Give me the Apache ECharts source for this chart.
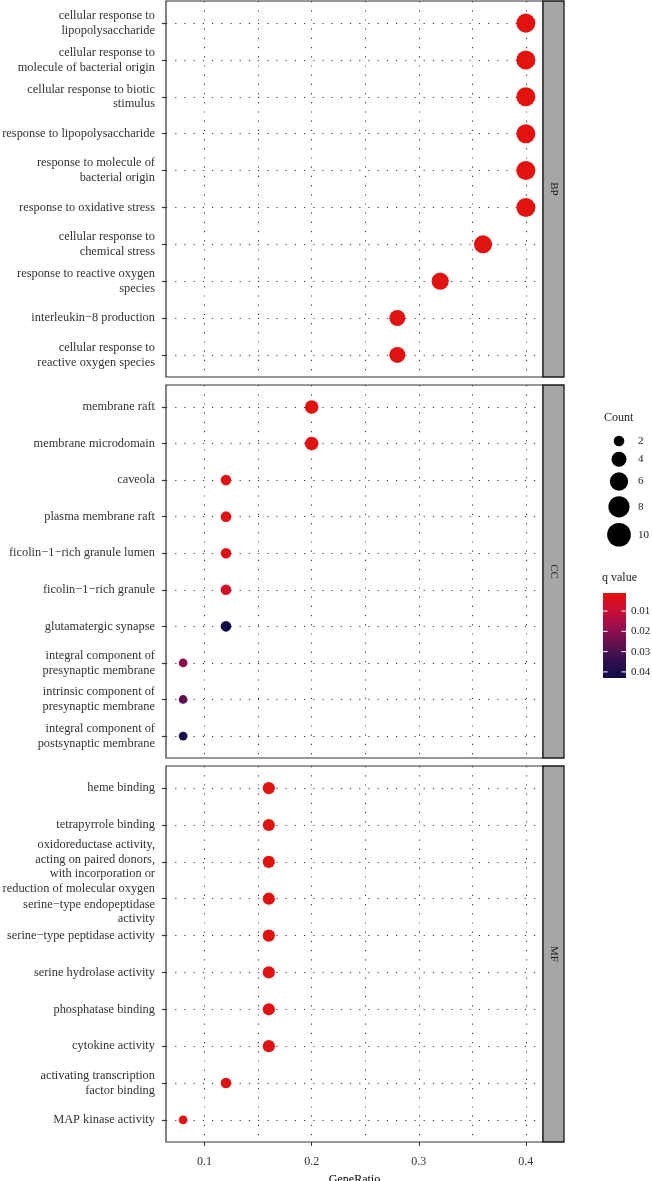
<!DOCTYPE html>
<html><head><meta charset="utf-8">
<script src="https://cdn.jsdelivr.net/npm/echarts@6/dist/echarts.min.js"></script>
<style>html,body{margin:0;padding:0;background:#fff}#c{width:652px;height:1181px}</style>
</head><body><div id="c"></div>
<script>
// ---------- data ----------
const bpTerms = [
  "cellular response to\nlipopolysaccharide",
  "cellular response to\nmolecule of bacterial origin",
  "cellular response to biotic\nstimulus",
  "response to lipopolysaccharide",
  "response to molecule of\nbacterial origin",
  "response to oxidative stress",
  "cellular response to\nchemical stress",
  "response to reactive oxygen\nspecies",
  "interleukin\u22128 production",
  "cellular response to\nreactive oxygen species"
];
const bpRatio = [0.40, 0.40, 0.40, 0.40, 0.40, 0.40, 0.36, 0.32, 0.28, 0.28];
const bpCount = [10, 10, 10, 10, 10, 10, 9, 8, 7, 7];
const bpQ     = [0.0011, 0.0011, 0.0011, 0.0011, 0.0011, 0.0012, 0.0013, 0.0015, 0.0016, 0.0018];

const ccTerms = [
  "membrane raft",
  "membrane microdomain",
  "caveola",
  "plasma membrane raft",
  "ficolin\u22121\u2212rich granule lumen",
  "ficolin\u22121\u2212rich granule",
  "glutamatergic synapse",
  "integral component of\npresynaptic membrane",
  "intrinsic component of\npresynaptic membrane",
  "integral component of\npostsynaptic membrane"
];
const ccRatio = [0.20, 0.20, 0.12, 0.12, 0.12, 0.12, 0.12, 0.08, 0.08, 0.08];
const ccCount = [5, 5, 3, 3, 3, 3, 3, 2, 2, 2];
const ccQ     = [0.0016, 0.0016, 0.0019, 0.0022, 0.0030, 0.0065, 0.0430, 0.0200, 0.0275, 0.0410];

const mfTerms = [
  "heme binding",
  "tetrapyrrole binding",
  "oxidoreductase activity,\nacting on paired donors,\nwith incorporation or\nreduction of molecular oxygen",
  "serine\u2212type endopeptidase\nactivity",
  "serine\u2212type peptidase activity",
  "serine hydrolase activity",
  "phosphatase binding",
  "cytokine activity",
  "activating transcription\nfactor binding",
  "MAP kinase activity"
];
const mfRatio = [0.16, 0.16, 0.16, 0.16, 0.16, 0.16, 0.16, 0.16, 0.12, 0.08];
const mfCount = [4, 4, 4, 4, 4, 4, 4, 4, 3, 2];
const mfQ     = [0.0013, 0.0013, 0.0015, 0.0016, 0.0017, 0.0017, 0.0019, 0.0020, 0.0021, 0.0022];

const panelNames = ["BP", "CC", "MF"];
const xTicks = [0.1, 0.2, 0.3, 0.4];
const xGridValues = [0.1, 0.15, 0.2, 0.25, 0.3, 0.35, 0.4];
const countLegend = [2, 4, 6, 8, 10];
const qTicks = [0.01, 0.02, 0.03, 0.04];

// ---------- layout / style ----------
const FONT = "'Liberation Serif', 'DejaVu Serif', serif";
const gridLeft = 166, gridRightX = 543, stripW = 21;
const panels = [
  {top: 1, h: 376},
  {top: 385, h: 373},
  {top: 766, h: 376}
];
// extra top spacing (px) pushing some long labels down, as in the original figure
const labelSpacer = [{}, {}, {2: 10, 3: 26}];
const xMin = 0.064, xMax = 0.416;
const colorStops = ['#E2130F', '#CB0D33', '#9B0E4B', '#66104F', '#2E0F4F', '#100C4A'];
const sizeOf = c => 5.9 * Math.sqrt(c) + 0.4;
const legendSizeOf = c => 7.5 * Math.sqrt(c);

const allQ = bpQ.concat(ccQ, mfQ);
const qMin = Math.min(...allQ), qMax = Math.max(...allQ);

const groups = [
  {terms: bpTerms, ratio: bpRatio, count: bpCount, q: bpQ},
  {terms: ccTerms, ratio: ccRatio, count: ccCount, q: ccQ},
  {terms: mfTerms, ratio: mfRatio, count: mfCount, q: mfQ}
];

const grid = [], xAxis = [], yAxis = [], series = [];
const dotLine = {color: '#3a3a3a', width: 1.1, type: [1.2, 8]};
const LH = 14.8;
groups.forEach((g, i) => {
  const p = panels[i];
  const isLast = i === groups.length - 1;
  grid.push({left: gridLeft, width: gridRightX - gridLeft, top: p.top, height: p.h,
    show: true, borderColor: '#333', borderWidth: 1.2, backgroundColor: '#fff',
    containLabel: false, outerBoundsMode: 'none'});
  xAxis.push({
    type: 'value', gridIndex: i, min: xMin, max: xMax, position: 'bottom',
    axisLine: {show: false, onZero: false},
    splitLine: {show: false},
    axisTick: {show: isLast, customValues: xTicks, length: 4, lineStyle: {color: '#333'}},
    axisLabel: {show: isLast, customValues: xTicks, margin: 14, fontFamily: FONT, fontSize: 12, color: '#333',
      formatter: v => String(Math.round(v * 10) / 10)},
    name: isLast ? 'GeneRatio' : '', nameLocation: 'middle', nameGap: 32,
    nameTextStyle: {fontFamily: FONT, fontSize: 12, color: '#000'}
  });
  const idx = g.terms.map((_, k) => k);
  const sp = labelSpacer[i];
  const rich = {};
  Object.keys(sp).forEach(k => { rich['sp' + k] = {lineHeight: sp[k], fontSize: 1}; });
  rich.t = {fontFamily: FONT, fontSize: 12.4, color: '#333', lineHeight: LH};
  yAxis.push({
    type: 'value', gridIndex: i, inverse: true, min: -0.6, max: g.terms.length - 0.4,
    axisLine: {show: false, onZero: false},
    splitLine: {show: false},
    axisTick: {show: true, customValues: idx, length: 4, lineStyle: {color: '#333', width: 1.2}},
    axisLabel: {show: true, customValues: idx, margin: 11, fontFamily: FONT, fontSize: 12.4, color: '#333',
      lineHeight: LH, rich: rich,
      formatter: v => {
        const k = Math.round(v);
        const txt = g.terms[k];
        if (sp[k]) return '{sp' + k + '| }\n' + txt.split('\n').map(s => '{t|' + s + '}').join('\n');
        return txt;
      }}
  });
  // grid lines
  series.push({
    type: 'scatter', xAxisIndex: i, yAxisIndex: i, data: [], z: 1, silent: true,
    markLine: {silent: true, symbol: ['none', 'none'], label: {show: false}, animation: false,
      lineStyle: dotLine, emphasis: {disabled: true},
      data: xGridValues.map(v => ({xAxis: v})).concat(idx.map(k => ({yAxis: k})))}
  });
  series.push({
    type: 'scatter', xAxisIndex: i, yAxisIndex: i, z: 5,
    data: g.ratio.map((r, k) => [r, k, g.q[k], g.count[k]]),
    symbolSize: v => sizeOf(v[3]),
    itemStyle: {opacity: 1}
  });
});

const dotSeriesIdx = [1, 3, 5];

// ---------- graphics: strips + legends ----------
const graphic = [];
panels.forEach((p, i) => {
  graphic.push({type: 'rect', shape: {x: gridRightX, y: p.top, width: stripW, height: p.h},
    style: {fill: '#A6A6A6', stroke: '#1a1a1a', lineWidth: 1.3}, z: 10});
  graphic.push({type: 'text', x: gridRightX + stripW / 2 + 0.5, y: p.top + p.h / 2, rotation: -Math.PI / 2,
    style: {text: panelNames[i], align: 'center', verticalAlign: 'middle', font: '11px ' + FONT, fill: '#1a1a1a'}, z: 11});
});
// Count legend
graphic.push({type: 'text', x: 604, y: 418, style: {text: 'Count', font: '12px ' + FONT, fill: '#1a1a1a', align: 'left', verticalAlign: 'middle'}});
let cy = 441;
countLegend.forEach((c, k) => {
  const d = legendSizeOf(c);
  if (k > 0) cy += (legendSizeOf(countLegend[k - 1]) + d) / 2 + 5.5;
  graphic.push({type: 'circle', shape: {cx: 619, cy: cy, r: d / 2}, style: {fill: '#000'}});
  graphic.push({type: 'text', x: 638, y: cy, style: {text: String(c), font: '11px ' + FONT, fill: '#1a1a1a', align: 'left', verticalAlign: 'middle'}});
});
// q value colorbar
const barX = 603, barY = 593, barW = 23, barH = 85;
graphic.push({type: 'text', x: 602, y: 578, style: {text: 'q value', font: '12px ' + FONT, fill: '#1a1a1a', align: 'left', verticalAlign: 'middle'}});
graphic.push({type: 'rect', shape: {x: barX, y: barY, width: barW, height: barH},
  style: {fill: new echarts.graphic.LinearGradient(0, 0, 0, 1,
    colorStops.map((c, k) => ({offset: k / (colorStops.length - 1), color: c})))}});
qTicks.forEach(q => {
  const y = barY + (q - qMin) / (qMax - qMin) * barH;
  graphic.push({type: 'line', shape: {x1: barX, y1: y, x2: barX + barW / 5, y2: y}, style: {stroke: '#fff', lineWidth: 1}});
  graphic.push({type: 'line', shape: {x1: barX + barW * 4 / 5, y1: y, x2: barX + barW, y2: y}, style: {stroke: '#fff', lineWidth: 1}});
  graphic.push({type: 'text', x: 631, y: y, style: {text: String(q), font: '11px ' + FONT, fill: '#1a1a1a', align: 'left', verticalAlign: 'middle'}});
});

const chart = echarts.init(document.getElementById('c'), null, {renderer: 'canvas'});
chart.setOption({
  animation: false,
  backgroundColor: '#fff',
  grid, xAxis, yAxis, series, graphic,
  visualMap: {show: false, type: 'continuous', dimension: 2, min: qMin, max: qMax,
    seriesIndex: dotSeriesIdx, inRange: {color: colorStops}}
});
</script></body></html>
